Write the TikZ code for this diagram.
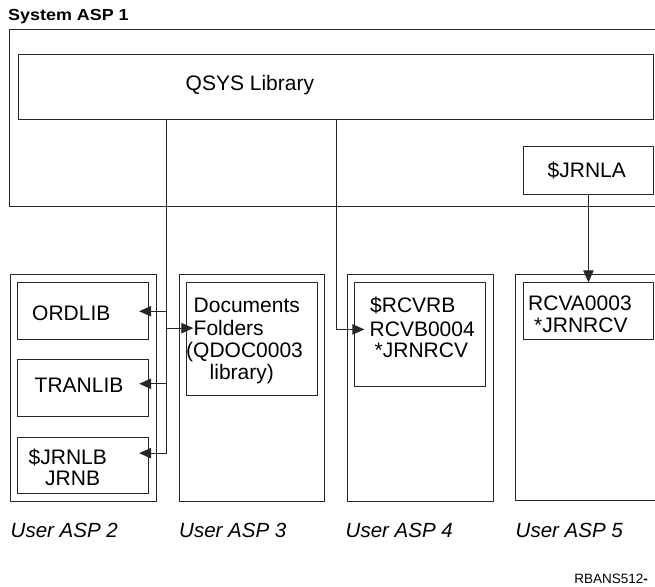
\documentclass[tikz,border=0pt]{standalone}
\usepackage{fontspec}
\setmainfont{Liberation Sans}
\newfontfamily\titlefont{Liberation Sans}[FakeStretch=1.12]
\usetikzlibrary{arrows.meta}
\tikzset{
  box/.style={draw=black!85, line width=0.9pt, inner sep=0pt, anchor=north west},
  frame/.style={draw=black!85, line width=0.9pt},
  conn/.style={draw=black!85, line width=0.9pt},
  arr/.style={conn, -{Triangle[length=12pt,width=10.5pt]}, shorten >=-10pt},
  lbl/.style={inner sep=0pt, anchor=base west, font=\fontsize{21}{23}\selectfont},
  asplbl/.style={inner sep=0pt, anchor=base west, font=\fontsize{20.5}{22}\selectfont\itshape},
}
\begin{document}
\begin{tikzpicture}[x=1pt,y=-1pt]
\useasboundingbox (0,0) rectangle (655,586);
% title
\node[inner sep=0pt, anchor=base west, font=\titlefont\bfseries\fontsize{16}{18}\selectfont] (title) at (8,20.7) {System ASP 1};
% system ASP frame (open at right)
\draw[frame] (655,29.3) -| (9.3,206.7) -- (655,206.7);
% QSYS
\node[box, minimum width=634.4pt, minimum height=65pt] (qsys) at (18.3,54) {};
\node[lbl] (qsyst) at (185.5,90.5) {QSYS Library};
\node[box, minimum width=130.6pt, minimum height=48.3pt] (jrnla) at (522.7,145.7) {};
\node[lbl] (jrnlat) at (547.5,177.2) {\$JRNLA};
% user ASP frames
\node[box, minimum width=145.7pt, minimum height=226.4pt] (asp2) at (10,274.3) {};
\node[box, minimum width=145pt, minimum height=226.4pt] (asp3) at (179,274.3) {};
\node[box, minimum width=146pt, minimum height=226.4pt] (asp4) at (346.7,274.3) {};
\draw[frame] (655,274.3) -| (515,500.7) -- (655,500.7);
% inner boxes
\node[box, minimum width=131pt, minimum height=57pt] (ordlib) at (17.3,282.3) {};
\node[box, minimum width=131pt, minimum height=57pt] (tranlib) at (17.3,359) {};
\node[box, minimum width=131pt, minimum height=56.6pt] (jrnlb) at (17.3,436.7) {};
\node[box, minimum width=130.7pt, minimum height=112.4pt] (docs) at (186,282.3) {};
\node[box, minimum width=130.7pt, minimum height=103.7pt] (rcvrb) at (354.3,282.3) {};
\node[box, minimum width=130.6pt, minimum height=57pt] (rcva) at (522.7,282.3) {};
% texts
\node[lbl] (ordlibt) at (32,320.8) {ORDLIB};
\node[lbl] (tranlibt) at (34.5,392.5) {TRANLIB};
\node[lbl] (jrnlbt1) at (28.5,464.2) {\$JRNLB};
\node[lbl] (jrnlbt2) at (45,485.8) {JRNB};
\node[lbl] (docst1) at (193.5,312.5) {Documents};
\node[lbl] (docst2) at (193.5,335.2) {Folders};
\node[lbl] (docst3) at (186,357.5) {(QDOC0003};
\node[lbl] (docst4) at (209.5,379.8) {library)};
\node[lbl] (rcvrbt1) at (370,312.5) {\$RCVRB};
\node[lbl] (rcvrbt2) at (369.5,336.5) {RCVB0004};
\node[lbl] (rcvrbt3) at (374.5,357.5) {*JRNRCV};
\node[lbl] (rcvat1) at (528,310.8) {RCVA0003};
\node[lbl] (rcvat2) at (534,332.5) {*JRNRCV};
% bottom labels
\node[asplbl] (l2) at (10.5,537.7) {User ASP 2};
\node[asplbl] (l3) at (179,537.7) {User ASP 3};
\node[asplbl] (l4) at (345.5,537.7) {User ASP 4};
\node[asplbl] (l5) at (515.5,537.7) {User ASP 5};
\node[inner sep=0pt, anchor=base east, font=\fontsize{13.5}{15}\selectfont] (code) at (648,583) {RBANS512\textbf{-}};
% connectors
\coordinate (t1) at (166,119);
\coordinate (t2) at (336,119);
\coordinate (tranpt) at ([yshift=4.2pt]tranlib.east);
\coordinate (jrnlbpt) at ([yshift=12.3pt]jrnlb.east);
\coordinate (docspt) at ([yshift=10.8pt]docs.west);
\coordinate (rcvrbpt) at ([yshift=5.2pt]rcvrb.west);
\draw[arr] (t1) |- (jrnlbpt);
\draw[arr] (t1 |- ordlib.east) -- (ordlib.east);
\draw[arr] (t1 |- tranpt) -- (tranpt);
\draw[arr, shorten >=-7.3pt] (t1 |- docspt) -- (docspt);
\draw[arr] (t2) |- (rcvrbpt);
\draw[arr, shorten >=0pt] (jrnla.south) -- (rcva.north);
\end{tikzpicture}
\end{document}
